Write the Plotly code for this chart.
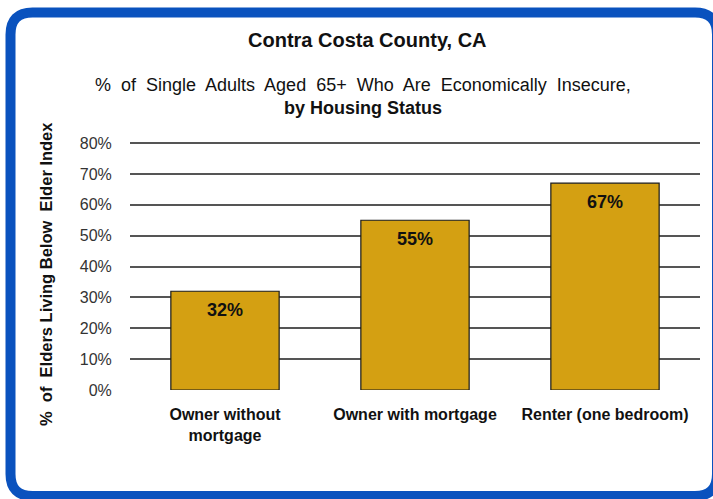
import plotly.graph_objects as go

categories = ["Owner without<br>mortgage", "Owner with mortgage", "Renter (one bedroom)"]
values = [32, 55, 67]
labels = ["32%", "55%", "67%"]
tick_vals = [0, 10, 20, 30, 40, 50, 60, 70, 80]
tick_text = ["0%", "10%", "20%", "30%", "40%", "50%", "60%", "70%", "80%"]

W, H = 713, 499
PL, PR, PT, PB = 130, 700, 140, 390

def px(x):
    return (x - PL) / (PR - PL)

def py(y):
    return (PB - y) / (PB - PT)

FONT = "Liberation Sans, Arial, sans-serif"

fig = go.Figure()
fig.add_trace(go.Bar(
    x=categories, y=values,
    marker=dict(color="#D4A012", line=dict(color="#1a1a1a", width=1.2)),
    hoverinfo="skip",
))

for c, v, s in zip(categories, values, labels):
    fig.add_annotation(x=c, y=v, xref="x", yref="y", text=f"<b>{s}</b>", showarrow=False,
                       xanchor="center", yanchor="middle", yshift=-19,
                       font=dict(family=FONT, size=18, color="#111111"))

# rounded blue frame
l, t, r, b, rad = 10.5, 12.5, 717, 496, 22
path = (f"M {px(l+rad)},{py(t)} L {px(r-rad)},{py(t)} Q {px(r)},{py(t)} {px(r)},{py(t+rad)} "
        f"L {px(r)},{py(b-rad)} Q {px(r)},{py(b)} {px(r-rad)},{py(b)} "
        f"L {px(l+rad)},{py(b)} Q {px(l)},{py(b)} {px(l)},{py(b-rad)} "
        f"L {px(l)},{py(t+rad)} Q {px(l)},{py(t)} {px(l+rad)},{py(t)} Z")
fig.add_shape(type="path", path=path, xref="paper", yref="paper",
              line=dict(color="#0A52BE", width=10), fillcolor="white", layer="below")

fig.add_annotation(x=px(367), y=py(40), xref="paper", yref="paper", showarrow=False,
                   xanchor="center", yanchor="middle",
                   text="<b>Contra Costa County, CA</b>",
                   font=dict(family=FONT, size=20, color="#111111"))
fig.add_annotation(x=px(363), y=py(96), xref="paper", yref="paper", showarrow=False,
                   xanchor="center", yanchor="middle",
                   text="%  of  Single  Adults  Aged  65+  Who  Are  Economically  Insecure,<br><b>by Housing Status</b>",
                   font=dict(family=FONT, size=18, color="#111111"))
fig.add_annotation(x=px(46), y=py(274), xref="paper", yref="paper", showarrow=False,
                   xanchor="center", yanchor="middle",
                   text="<b>%  of  Elders Living Below  Elder Index</b>", textangle=-90,
                   font=dict(family=FONT, size=16.5, color="#111111"))

fig.update_layout(
    width=W, height=H,
    margin=dict(l=PL, r=W - PR, t=PT, b=H - PB),
    paper_bgcolor="white", plot_bgcolor="rgba(0,0,0,0)",
    bargap=0.43, showlegend=False,
    xaxis=dict(showgrid=False, showline=False, zeroline=False, fixedrange=True,
               ticks="outside", ticklen=10, tickcolor="rgba(0,0,0,0)",
               tickfont=dict(family=FONT, size=16, color="#111111", weight="bold")),
    yaxis=dict(range=[0, 81], tickvals=tick_vals, ticktext=tick_text, fixedrange=True,
               showgrid=True, gridcolor="#555555", gridwidth=1.6,
               showline=False, zeroline=False,
               ticks="outside", ticklen=14, tickcolor="rgba(0,0,0,0)",
               tickfont=dict(family=FONT, size=16, color="#333333")),
)

fig.write_html("out.html", config={"displayModeBar": False},
               post_script="document.body.style.margin='0px';")
